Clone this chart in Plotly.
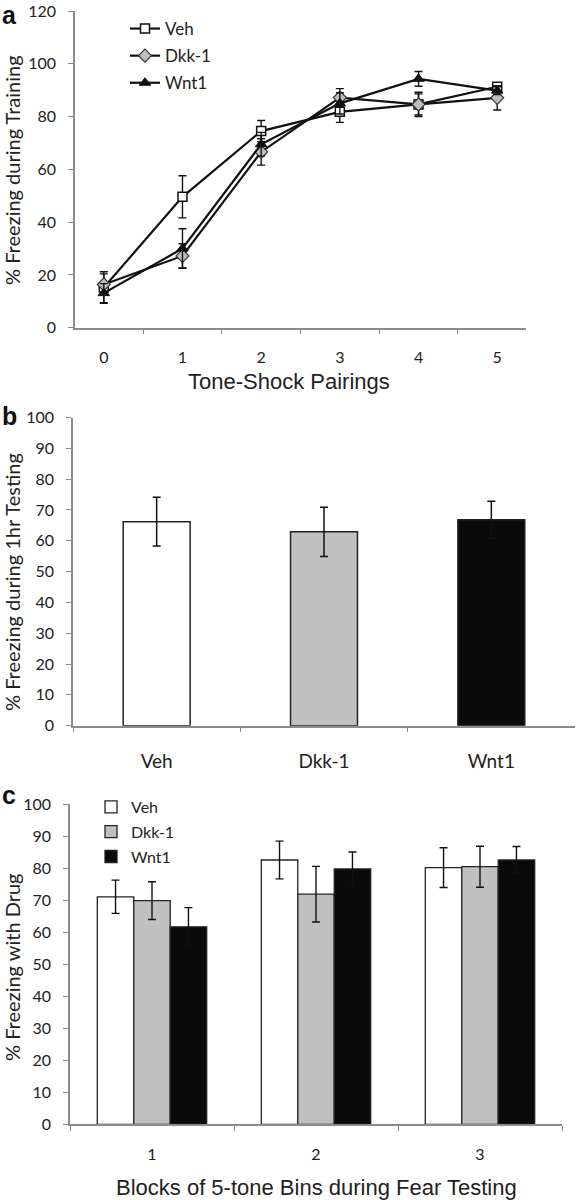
import plotly.graph_objects as go

W, H = 576, 1200

# ---------------- Panel a data ----------------
pairings = ["0", "1", "2", "3", "4", "5"]
veh_a = [15.2, 49.6, 74.5, 81.8, 84.6, 91.3]
veh_a_err = [6.0, 8.0, 4.0, 4.0, 4.0, 1.5]
dkk_a = [16.4, 27.2, 66.6, 87.2, 84.6, 87.1]
dkk_a_err = [4.0, 4.6, 5.0, 3.4, 4.6, 4.6]
wnt_a = [13.1, 30.0, 69.5, 85.0, 94.3, 89.8]
wnt_a_err = [3.6, 7.5, 4.5, 4.0, 2.8, 1.5]

# ---------------- Panel b data ----------------
groups_b = ["Veh", "Dkk-1", "Wnt1"]
vals_b = [66.2, 62.9, 66.8]
errs_b = [7.9, 8.0, 6.0]

# ---------------- Panel c data ----------------
blocks = ["1", "2", "3"]
veh_c = [71.1, 82.6, 80.2]
veh_c_err = [5.2, 5.9, 6.2]
dkk_c = [69.9, 71.9, 80.5]
dkk_c_err = [5.9, 8.7, 6.4]
wnt_c = [61.7, 79.8, 82.6]
wnt_c_err = [6.0, 5.3, 4.2]

series_names = ["Veh", "Dkk-1", "Wnt1"]
fills = ["white", "#c0c0c0", "#0a0a0a"]

TICKFONT = dict(family="Lato, Carlito, sans-serif", size=16, color="#222")
AXCOL = "#8c8c8c"


def px_x(p):
    return p / W


def px_y(p):
    return 1 - p / H


fig = go.Figure()

# Panel a traces
markers = [
    dict(symbol="square", size=9, color="white", line=dict(color="#111", width=1.5)),
    dict(symbol="diamond", size=10, color="#bdbdbd", line=dict(color="#333", width=1.2)),
    dict(symbol="triangle-up", size=10, color="#111", line=dict(color="#111", width=1)),
]
for i, (name, ys, es) in enumerate(zip(series_names, [veh_a, dkk_a, wnt_a], [veh_a_err, dkk_a_err, wnt_a_err])):
    fig.add_trace(go.Scatter(
        x=pairings, y=ys, name=name, mode="lines+markers",
        line=dict(color="#111", width=2.2), marker=markers[i],
        error_y=dict(type="data", array=es, color="#111", thickness=1.4, width=4),
        xaxis="x", yaxis="y", legend="legend", legendgroup=f"a{i}",
    ))

# Panel b
fig.add_trace(go.Bar(
    x=groups_b, y=vals_b, width=0.4,
    marker=dict(color=fills, line=dict(color="#222", width=1.5)),
    error_y=dict(type="data", array=errs_b, color="#111", thickness=1.5, width=4),
    xaxis="x2", yaxis="y2", showlegend=False,
))

# Panel c
for i, (name, ys, es) in enumerate(zip(series_names, [veh_c, dkk_c, wnt_c], [veh_c_err, dkk_c_err, wnt_c_err])):
    fig.add_trace(go.Bar(
        x=blocks, y=ys, name=name,
        marker=dict(color=fills[i], line=dict(color="#222", width=1.3)),
        error_y=dict(type="data", array=es, color="#111", thickness=1.4, width=4),
        xaxis="x3", yaxis="y3", legend="legend2", legendgroup=f"c{i}",
    ))

common_x = dict(type="category", tickson="boundaries", ticks="outside", ticklen=5,
                tickcolor=AXCOL, showline=True, linecolor=AXCOL, linewidth=1.5,
                showgrid=False, zeroline=False, tickfont=TICKFONT, fixedrange=True,
                automargin=False, ticklabeloverflow="allow")
common_y = dict(ticks="outside", ticklen=5, tickcolor=AXCOL, showline=True, linecolor=AXCOL,
                linewidth=1.5, showgrid=False, zeroline=False, tickfont=TICKFONT, fixedrange=True,
                automargin=False, ticklabeloverflow="allow")

fig.update_layout(
    width=W, height=H, margin=dict(l=0, r=0, t=0, b=0, autoexpand=False),
    paper_bgcolor="white", plot_bgcolor="white",
    barmode="group", bargap=0.333, bargroupgap=0,
    xaxis=dict(common_x, domain=[px_x(75), px_x(526)], anchor="y", ticklabelstandoff=14),
    yaxis=dict(common_y, domain=[px_y(327.7), px_y(11)], anchor="x", range=[0, 120], dtick=20,
               ticklabelstandoff=9),
    xaxis2=dict(common_x, domain=[px_x(73), px_x(575)], anchor="y2", ticklabelstandoff=18,
                tickfont=dict(TICKFONT, size=19)),
    yaxis2=dict(common_y, domain=[px_y(725.7), px_y(417.5)], anchor="x2", range=[0, 100], dtick=10,
                ticklabelstandoff=9),
    xaxis3=dict(common_x, domain=[px_x(70), px_x(562)], anchor="y3", ticklabelstandoff=15),
    yaxis3=dict(common_y, domain=[px_y(1124.3), px_y(804.3)], anchor="x3", range=[0, 100], dtick=10,
                ticklabelstandoff=9),
    legend=dict(x=px_x(125), y=px_y(11), xanchor="left", yanchor="top",
                font=dict(family="Lato, sans-serif", size=17, color="#222"),
                bgcolor="rgba(0,0,0,0)", tracegroupgap=2, itemwidth=30),
    legend2=dict(x=px_x(91), y=px_y(790), xanchor="left", yanchor="top",
                 font=dict(family="Lato, sans-serif", size=16, color="#222"),
                 bgcolor="rgba(0,0,0,0)", tracegroupgap=1, itemwidth=30),
    showlegend=True,
)

annos = [
    # panel letters
    dict(text="<b>a</b>", x=px_x(0), y=px_y(15), font=dict(family="Liberation Sans, Arial", size=25)),
    dict(text="<b>b</b>", x=px_x(0), y=px_y(416), font=dict(family="Liberation Sans, Arial", size=25)),
    dict(text="<b>c</b>", x=px_x(0), y=px_y(795), font=dict(family="Liberation Sans, Arial", size=25)),
]
for a in annos:
    a.update(xref="paper", yref="paper", xanchor="left", yanchor="middle", showarrow=False)
    a["font"]["color"] = "#111"

titles = [
    dict(text="% Freezing during Training", x=px_x(12), y=px_y(170), textangle=-90,
         font=dict(family="Lato, sans-serif", size=20)),
    dict(text="% Freezing during 1hr Testing", x=px_x(12), y=px_y(582), textangle=-90,
         font=dict(family="Lato, sans-serif", size=20)),
    dict(text="% Freezing with Drug", x=px_x(12), y=px_y(967), textangle=-90,
         font=dict(family="Lato, sans-serif", size=20)),
    dict(text="Tone-Shock Pairings", x=px_x(289), y=px_y(381), textangle=0,
         font=dict(family="Liberation Sans, Arial", size=22)),
    dict(text="Blocks of 5-tone Bins during Fear Testing", x=px_x(316), y=px_y(1187), textangle=0,
         font=dict(family="Liberation Sans, Arial", size=22)),
]
for a in titles:
    a.update(xref="paper", yref="paper", xanchor="center", yanchor="middle", showarrow=False)
    a["font"]["color"] = "#222"

fig.update_layout(annotations=annos + titles)

# remove the browser's default 8px body margin so figure pixels match window pixels
fig.write_html("out.html", config={"displayModeBar": False},
               post_script="document.body.style.margin='0px';")
